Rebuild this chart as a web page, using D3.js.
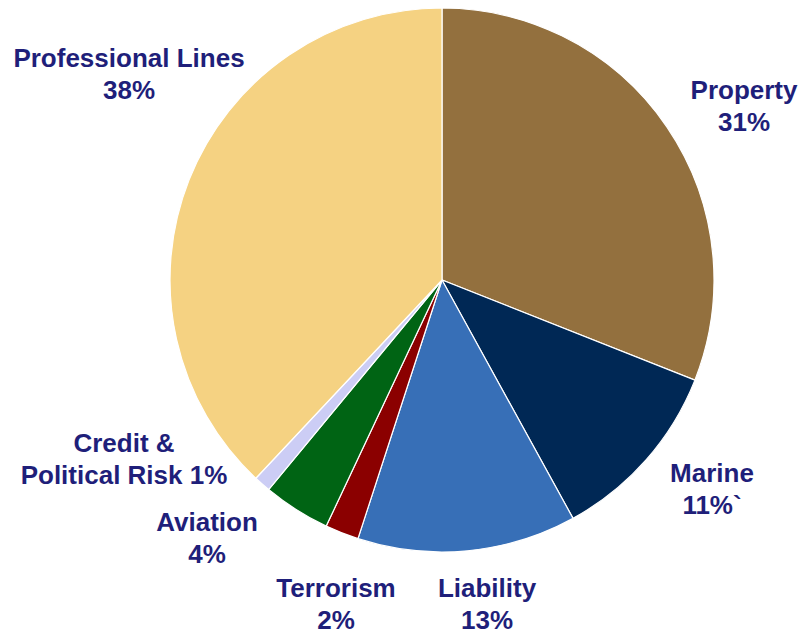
<!DOCTYPE html>
<html>
<head>
<meta charset="utf-8">
<script src="https://cdn.jsdelivr.net/npm/d3@7"></script>
<style>
  body { margin: 0; background: #fff; }
  svg { display: block; }
</style>
</head>
<body>
<svg id="chart" width="812" height="632"></svg>
<script>
const categories = ["Property", "Marine", "Liability", "Terrorism", "Aviation", "Credit & Political Risk", "Professional Lines"];
const shares = [31, 11, 13, 2, 4, 1, 38];
const labelLines = [
  ["Property", "31%"],
  ["Marine", "11%`"],
  ["Liability", "13%"],
  ["Terrorism", "2%"],
  ["Aviation", "4%"],
  ["Credit &", "Political Risk 1%"],
  ["Professional Lines", "38%"]
];
const colors = ["#93703e", "#002855", "#376fb7", "#8b0000", "#006414", "#cccdf5", "#f5d282"];
// label centre positions, relative to pie centre
const labelPos = [[302, -174], [270, 209], [45, 324], [-106, 324], [-235, 258], [-318, 179], [-313, -206]];

const width = 812, height = 632;
const cx = 442, cy = 280, radius = 272;

const svg = d3.select("#chart");
const g = svg.append("g").attr("transform", `translate(${cx},${cy})`);

const pie = d3.pie().sort(null).value(d => d);
const arc = d3.arc().innerRadius(0).outerRadius(radius);

g.selectAll("path")
  .data(pie(shares))
  .join("path")
    .attr("d", arc)
    .attr("fill", (d, i) => colors[i])
    .attr("stroke", "#fff")
    .attr("stroke-width", 1.2);

const labels = g.selectAll("text.lbl")
  .data(labelLines)
  .join("text")
    .attr("class", "lbl")
    .attr("text-anchor", "middle")
    .attr("font-family", "Liberation Sans, Arial, sans-serif")
    .attr("font-weight", "bold")
    .attr("font-size", 26)
    .attr("fill", "#1f1f7a")
    .attr("transform", (d, i) => `translate(${labelPos[i][0]},${labelPos[i][1]})`);

labels.selectAll("tspan")
  .data(d => d)
  .join("tspan")
    .attr("x", 0)
    .attr("y", (d, j) => -16 + j * 32)
    .attr("dy", "0.35em")
    .text(d => d);
</script>
</body>
</html>
